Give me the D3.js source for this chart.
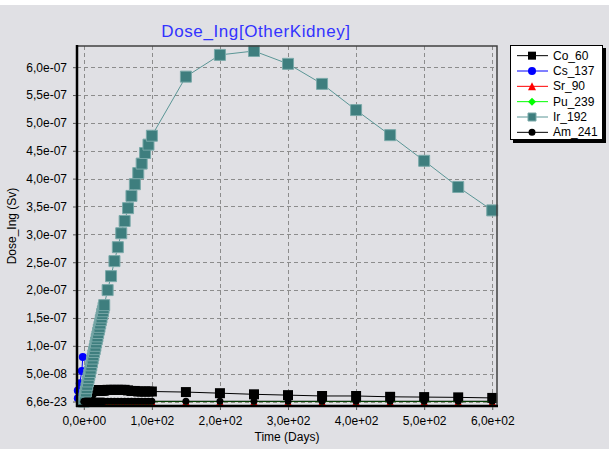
<!DOCTYPE html>
<meta charset="utf-8">
<script src="https://d3js.org/d3.v7.min.js"></script>
<style>
  body { margin: 0; background: #ffffff; }
  text { font-family: "Liberation Sans", Arial, sans-serif; }
</style>
<div id="my_dataviz"></div>
<script>

// Time grid (days): daily to 30, every 5 days to 100, then every 50 days
var days = [0, 1, 2, 3, 4, 5, 6, 7, 8, 9, 10, 11, 12, 13, 14, 15, 16, 17, 18, 19, 20,
            21, 22, 23, 24, 25, 26, 27, 28, 29, 30,
            35, 40, 45, 50, 55, 60, 65, 70, 75, 80, 85, 90, 95, 100,
            150, 200, 250, 300, 350, 400, 450, 500, 550, 600];

// Values in units of 1e-7 Sv
var ir192 = [0, 0.06, 0.12, 0.18, 0.24, 0.30, 0.36, 0.42, 0.48, 0.53, 0.59, 0.65, 0.71, 0.77, 0.83, 0.89, 0.94, 1.00, 1.06, 1.12, 1.17,
             1.23, 1.29, 1.34, 1.40, 1.46, 1.51, 1.57, 1.62, 1.68, 1.73,
             2.00, 2.25, 2.52, 2.77, 3.02, 3.24, 3.47, 3.69, 3.90, 4.10, 4.27, 4.46, 4.61, 4.77,
             5.83, 6.22, 6.29, 6.06, 5.70, 5.23, 4.78, 4.32, 3.85, 3.43];

var co60 = [0, 0.002, 0.004, 0.006, 0.008, 0.01, 0.02, 0.04, 0.07, 0.10, 0.14, 0.17, 0.19, 0.20, 0.20, 0.20, 0.20, 0.20, 0.20, 0.20, 0.20,
            0.20, 0.20, 0.20, 0.20, 0.20, 0.20, 0.20, 0.20, 0.20, 0.20,
            0.21, 0.21, 0.21, 0.21, 0.21, 0.21, 0.20, 0.19, 0.19, 0.18, 0.18, 0.18, 0.18, 0.18,
            0.17, 0.15, 0.13, 0.115, 0.10, 0.10, 0.085, 0.08, 0.075, 0.065];

var sr90 = [0, 0, 0, 0, 0, 0, 0, 0, 0, 0, 0, 0, 0, 0, 0, 0, 0, 0, 0, 0, 0,
            0, 0, 0, 0, 0, 0, 0, 0, 0, 0,
            0, 0, 0, 0, 0, 0, 0, 0, 0, 0, 0, 0, 0, 0,
            0, 0, 0, 0, 0, 0, 0, 0, 0, 0];

var pu239 = [0, 0, 0, 0, 0, 0, 0, 0, 0, 0, 0, 0, 0, 0, 0, 0, 0, 0, 0, 0, 0,
             0, 0, 0, 0, 0, 0, 0, 0, 0, 0,
             0, 0, 0, 0, 0, 0, 0, 0, 0, 0, 0, 0, 0, 0,
             0, 0, 0, 0, 0, 0, 0, 0, 0, 0];

var am241 = [0, 0.005, 0.005, 0.005, 0.005, 0.005, 0.005, 0.005, 0.005, 0.005, 0.005, 0.005, 0.005, 0.005, 0.005, 0.005, 0.005, 0.005, 0.005, 0.005, 0.005,
             0.005, 0.005, 0.005, 0.005, 0.005, 0.005, 0.005, 0.005, 0.005, 0.005,
             0.005, 0.005, 0.005, 0.005, 0.005, 0.005, 0.005, 0.005, 0.005, 0.005, 0.005, 0.005, 0.005, 0.005,
             0.005, 0.005, 0.005, 0.005, 0.005, 0.005, 0.005, 0.005, 0.005, 0.005];

// Cs_137 only shows a few points near the start
var csDays = [-8.8, -8.8, -5.9, -2.9, -1.5];
var cs137 = [0.06, 0.20, 0.33, 0.55, 0.80];

// Tick values and labels
var xTicks = [0, 100, 200, 300, 400, 500, 600];
var xTickLabels = ["0,0e+00", "1,0e+02", "2,0e+02", "3,0e+02", "4,0e+02", "5,0e+02", "6,0e+02"];
var yTicks = [0, 0.5, 1.0, 1.5, 2.0, 2.5, 3.0, 3.5, 4.0, 4.5, 5.0, 5.5, 6.0];
var yTickLabels = ["6,6e-23", "5,0e-08", "1,0e-07", "1,5e-07", "2,0e-07", "2,5e-07", "3,0e-07",
                   "3,5e-07", "4,0e-07", "4,5e-07", "5,0e-07", "5,5e-07", "6,0e-07"];

var seriesNames = ["Co_60", "Cs_137", "Sr_90", "Pu_239", "Ir_192", "Am_241"];

var W = 610, H = 451;
var plot = {left: 77, right: 497, top: 46, bottom: 406};

var svg = d3.select("#my_dataviz")
  .append("svg")
  .attr("width", W)
  .attr("height", H);

// background
svg.append("rect")
  .attr("x", 0).attr("y", 5)
  .attr("width", 609).attr("height", 444)
  .attr("fill", "#e0e0e4");

var x = d3.scaleLinear().domain([-10, 607]).range([plot.left, plot.right]);
var y = d3.scaleLinear().domain([-0.08, 6.38]).range([plot.bottom, plot.top]);

// grid
var grid = svg.append("g")
  .attr("stroke", "#8c8c8c")
  .attr("stroke-dasharray", "4,3")
  .attr("stroke-width", 1);
grid.selectAll(".vg").data(xTicks).enter().append("line")
  .attr("x1", function(d) { return Math.round(x(d)) + 0.5; })
  .attr("x2", function(d) { return Math.round(x(d)) + 0.5; })
  .attr("y1", plot.top).attr("y2", plot.bottom);
grid.selectAll(".hg").data(yTicks).enter().append("line")
  .attr("y1", function(d) { return Math.round(y(d)) + 0.5; })
  .attr("y2", function(d) { return Math.round(y(d)) + 0.5; })
  .attr("x1", plot.left).attr("x2", plot.right);

// marker helpers
var sym = {
  square: function(s) { return d3.symbol().type(d3.symbolSquare).size(s * s)(); },
  circle: function(s) { return d3.symbol().type(d3.symbolCircle).size(Math.PI * s * s / 4)(); },
  triangle: function(s) { return "M0," + (-s / 2) + "L" + (s / 2) + "," + (s / 2) + "L" + (-s / 2) + "," + (s / 2) + "Z"; },
  diamond: function(s) { return "M0," + (-s / 2) + "L" + (s / 2) + ",0L0," + (s / 2) + "L" + (-s / 2) + ",0Z"; }
};

var series = [
  {name: "Co_60",  xs: days,   vs: co60,  line: "#000000", fill: "#000000", stroke: "none",    shape: "square",   size: 10, lsize: 8},
  {name: "Cs_137", xs: csDays, vs: cs137, line: "#0000ff", fill: "#0000ff", stroke: "none",    shape: "circle",   size: 8,  lsize: 8},
  {name: "Sr_90",  xs: days,   vs: sr90,  line: "#ff0000", fill: "#ff0000", stroke: "none",    shape: "triangle", size: 7,  lsize: 8},
  {name: "Pu_239", xs: days,   vs: pu239, line: "#00ff00", fill: "#00ff00", stroke: "none",    shape: "diamond",  size: 7,  lsize: 8},
  {name: "Ir_192", xs: days,   vs: ir192, line: "#5b9696", fill: "#3e7e7e", stroke: "#7aa9a9", shape: "square",   size: 11, lsize: 8},
  {name: "Am_241", xs: days,   vs: am241, line: "#000000", fill: "#000000", stroke: "none",    shape: "circle",   size: 7,  lsize: 7}
];

var lineGen = d3.line()
  .x(function(d) { return x(d[0]); })
  .y(function(d) { return y(d[1]); });

series.forEach(function(s) {
  var pts = s.xs.map(function(d, i) { return [d, s.vs[i]]; });
  var g = svg.append("g");
  g.append("path")
    .datum(pts)
    .attr("d", lineGen)
    .attr("fill", "none")
    .attr("stroke", s.line)
    .attr("stroke-width", 1);
  g.selectAll("path.m")
    .data(pts)
    .enter()
    .append("path")
    .attr("class", "m")
    .attr("transform", function(d) { return "translate(" + x(d[0]) + "," + y(d[1]) + ")"; })
    .attr("d", sym[s.shape](s.size))
    .attr("fill", s.fill)
    .attr("stroke", s.stroke)
    .attr("stroke-width", 1);
});

// frame
svg.append("rect")
  .attr("x", plot.left).attr("y", plot.top)
  .attr("width", plot.right - plot.left).attr("height", plot.bottom - plot.top)
  .attr("fill", "none")
  .attr("stroke", "#404040")
  .attr("stroke-width", 1.5);
svg.append("line")
  .attr("x1", plot.left).attr("x2", plot.left)
  .attr("y1", plot.top - 1).attr("y2", plot.bottom + 1)
  .attr("stroke", "#000").attr("stroke-width", 2.5);
svg.append("line")
  .attr("x1", plot.left - 1).attr("x2", plot.right + 1)
  .attr("y1", plot.bottom).attr("y2", plot.bottom)
  .attr("stroke", "#000").attr("stroke-width", 2.5);

// axes
var yAxis = svg.append("g")
  .attr("transform", "translate(" + (plot.left - 1) + ",0)")
  .call(d3.axisLeft(y).tickValues(yTicks).tickSize(3).tickPadding(6)
    .tickFormat(function(d, i) { return yTickLabels[i]; }));
yAxis.select(".domain").remove();
yAxis.selectAll("text").style("font-size", "12px").attr("fill", "#000");
yAxis.selectAll("line").attr("stroke", "#555");

var xAxis = svg.append("g")
  .attr("transform", "translate(0," + (plot.bottom + 1) + ")")
  .call(d3.axisBottom(x).tickValues(xTicks).tickSize(3).tickPadding(6)
    .tickFormat(function(d, i) { return xTickLabels[i]; }));
xAxis.select(".domain").remove();
xAxis.selectAll("text").style("font-size", "12px").attr("fill", "#000");
xAxis.selectAll("line").attr("stroke", "#555");

// titles
svg.append("text")
  .attr("x", 256).attr("y", 37)
  .attr("text-anchor", "middle")
  .style("font-size", "17px")
  .style("letter-spacing", "0.6px")
  .attr("fill", "#3333ff")
  .text("Dose_Ing[OtherKidney]");

svg.append("text")
  .attr("x", 287).attr("y", 441)
  .attr("text-anchor", "middle")
  .style("font-size", "12px")
  .text("Time (Days)");

svg.append("text")
  .attr("transform", "translate(16,226) rotate(-90)")
  .attr("text-anchor", "middle")
  .style("font-size", "12px")
  .text("Dose_Ing (Sv)");

// legend
var lg = svg.append("g");
lg.append("rect")
  .attr("x", 513).attr("y", 48).attr("width", 93).attr("height", 95)
  .attr("fill", "#000");
lg.append("rect")
  .attr("x", 510.5).attr("y", 45.5).attr("width", 92).attr("height", 94)
  .attr("fill", "#ffffff").attr("stroke", "#000").attr("stroke-width", 1);

var rowY = d3.scaleBand().domain(seriesNames).range([48, 140]);
series.forEach(function(s) {
  var cy = rowY(s.name) + rowY.bandwidth() / 2;
  lg.append("line")
    .attr("x1", 517).attr("x2", 548)
    .attr("y1", cy).attr("y2", cy)
    .attr("stroke", s.line).attr("stroke-width", 1);
  lg.append("path")
    .attr("transform", "translate(532," + cy + ")")
    .attr("d", sym[s.shape](s.lsize))
    .attr("fill", s.fill)
    .attr("stroke", s.stroke);
  lg.append("text")
    .attr("x", 553).attr("y", cy + 4)
    .style("font-size", "12px")
    .text(s.name);
});

</script>
